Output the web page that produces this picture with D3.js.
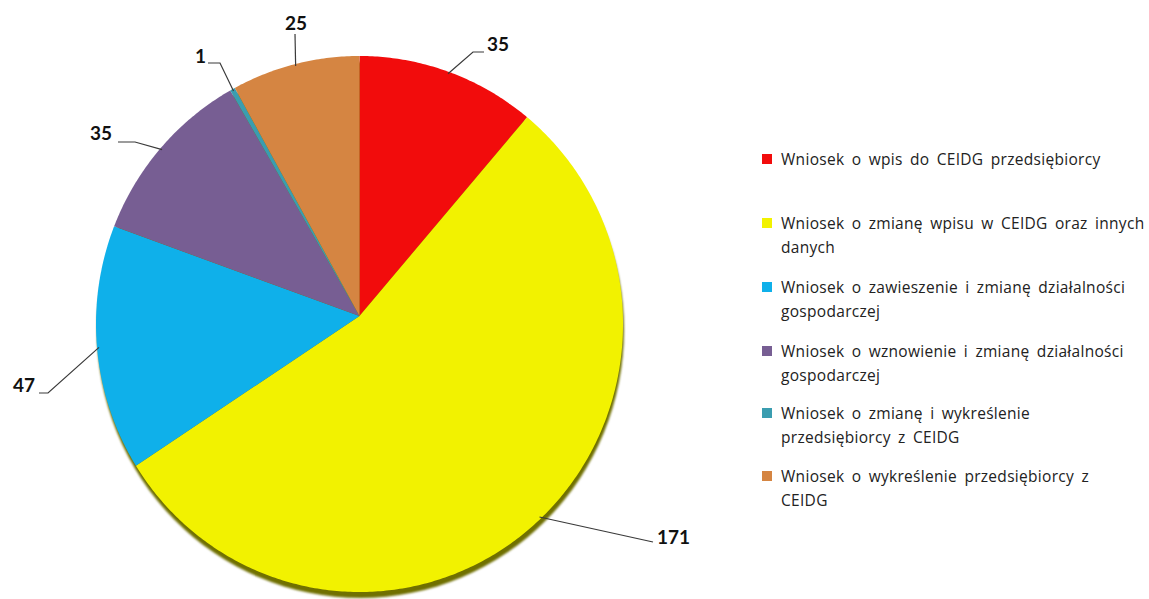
<!DOCTYPE html>
<html><head><meta charset="utf-8">
<script src="https://cdn.jsdelivr.net/npm/d3@7"></script>
<style>html,body{margin:0;padding:0;background:#fff;}svg{display:block;}</style>
</head><body>
<svg id="chart" width="1149" height="599"></svg>
<script>
const categories = [
  "Wniosek o wpis do CEIDG przedsiębiorcy",
  "Wniosek o zmianę wpisu w CEIDG oraz innych danych",
  "Wniosek o zawieszenie i zmianę działalności gospodarczej",
  "Wniosek o wznowienie i zmianę działalności gospodarczej",
  "Wniosek o zmianę i wykreślenie przedsiębiorcy z CEIDG",
  "Wniosek o wykreślenie przedsiębiorcy z CEIDG"
];
const legendLines = [
  ["Wniosek o wpis do CEIDG przedsiębiorcy"],
  ["Wniosek o zmianę wpisu w CEIDG oraz innych", "danych"],
  ["Wniosek o zawieszenie i zmianę działalności", "gospodarczej"],
  ["Wniosek o wznowienie i zmianę działalności", "gospodarczej"],
  ["Wniosek o zmianę i wykreślenie", "przedsiębiorcy z CEIDG"],
  ["Wniosek o wykreślenie przedsiębiorcy z", "CEIDG"]
];
const values = [35, 171, 47, 35, 1, 25];
const colors = ["#f20c0c", "#f2f200", "#0fb0ea", "#775e93", "#3a9db0", "#d58542"];

const svg = d3.select("#chart");
// slice vertex and slightly tilted outline (3D-like perspective)
const vx = 359.5, vy = 316;
const ex = 359.5, ey = 324, rx = 263.5, ry = 268;

// label layout: text anchor point, anchor type, bend point, end of horizontal stub
const labelLayout = [
  {x: 487, y: 51, anchor: "start",  bend: [473, 52],  stub: [484, 52]},
  {x: 657, y: 544, anchor: "start", bend: [653, 542], stub: null},
  {x: 35, y: 392, anchor: "end",    bend: [48, 393],  stub: [39, 393]},
  {x: 112, y: 140, anchor: "end",   bend: [135, 142], stub: [118, 142]},
  {x: 206, y: 63, anchor: "end",    bend: [220, 63],  stub: [208, 63]},
  {x: 296, y: 30, anchor: "middle", bend: [295, 34],  stub: null}
];

// point on outline along the ray from the vertex at angle a (clockwise from 12 o'clock)
function edgePoint(a, inset = 0) {
  const dx = Math.sin(a), dy = -Math.cos(a);
  const u = (vx - ex) / rx, w = (vy - ey) / ry;
  const dxn = dx / rx, dyn = dy / ry;
  const A = dxn * dxn + dyn * dyn, B = u * dxn + w * dyn, C = u * u + w * w - 1;
  const t = (-B + Math.sqrt(B * B - A * C)) / A - inset;
  return [vx + t * dx, vy + t * dy];
}
function slicePath(d) {
  const pts = [[vx, vy]];
  const n = Math.max(2, Math.ceil((d.endAngle - d.startAngle) / 0.01));
  for (let k = 0; k <= n; k++) {
    pts.push(edgePoint(d.startAngle + (d.endAngle - d.startAngle) * k / n));
  }
  return d3.line()(pts) + "Z";
}

const pie = d3.pie().sort(null).value(d => d)(values);

const defs = svg.append("defs");
defs.append("filter").attr("id", "blur").append("feGaussianBlur").attr("stdDeviation", 1);

// shadow
svg.append("ellipse").attr("cx", ex + 1).attr("cy", ey + 6).attr("rx", rx).attr("ry", ry)
  .attr("fill", "#6f6f00").attr("filter", "url(#blur)");

svg.selectAll("path.slice").data(pie).enter().append("path")
  .attr("class", "slice")
  .attr("d", slicePath)
  .attr("fill", (d, i) => colors[i]);

// leader lines and labels
pie.forEach((d, i) => {
  const L = labelLayout[i];
  const a = (d.startAngle + d.endAngle) / 2;
  const p = edgePoint(a, 2);
  const pts = [p, L.bend];
  if (L.stub) pts.push(L.stub);
  svg.append("path")
    .attr("d", d3.line()(pts))
    .attr("fill", "none").attr("stroke", "#3a3a3a").attr("stroke-width", 1.2);
  svg.append("text")
    .attr("x", L.x).attr("y", L.y)
    .attr("text-anchor", L.anchor)
    .attr("font-family", "Lato, 'Open Sans', sans-serif")
    .attr("font-weight", "bold").attr("font-size", 19)
    .attr("fill", "#111")
    .text(values[i]);
});

// legend
const legendY = [160, 224, 288, 352, 414, 477];
const lg = svg.append("g");
legendLines.forEach((lines, i) => {
  lg.append("rect").attr("x", 762).attr("y", legendY[i] - 6).attr("width", 10).attr("height", 10)
    .attr("fill", colors[i]);
  lines.forEach((t, j) => {
    lg.append("text").attr("x", 781).attr("y", legendY[i] + 5 + j * 24)
      .attr("font-family", "'Open Sans', Lato, sans-serif").attr("font-size", 15.5)
      .attr("letter-spacing", 0.3).attr("word-spacing", 3)
      .attr("fill", "#222").text(t);
  });
});
</script>
</body></html>
